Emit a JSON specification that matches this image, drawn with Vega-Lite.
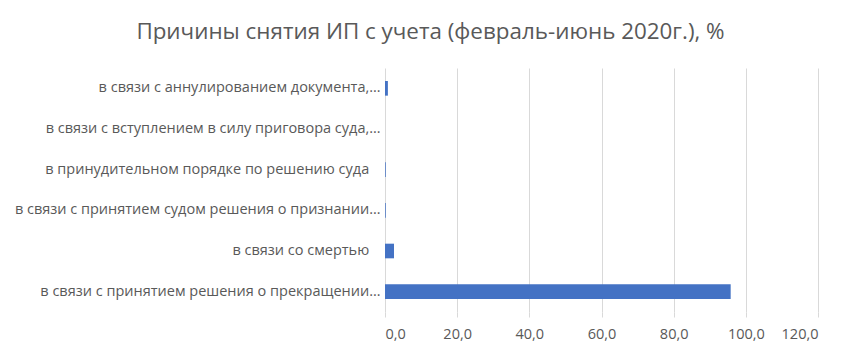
{
  "$schema": "https://vega.github.io/schema/vega-lite/v6.json",
  "width": 433,
  "height": 244,
  "autosize": {"type": "none"},
  "padding": {"left": 385, "top": 68, "right": 42, "bottom": 45},
  "background": "white",
  "title": {
    "text": "Причины снятия ИП с учета (февраль-июнь 2020г.), %",
    "font": "Open Sans",
    "fontSize": 22.4,
    "fontWeight": "normal",
    "color": "#595959",
    "anchor": "middle",
    "dx": -171,
    "offset": 25
  },
  "config": {
    "locale": {"number": {"decimal": ",", "thousands": " ", "grouping": [3], "currency": ["", ""]}},
    "view": {"stroke": null},
    "font": "Open Sans"
  },
  "data": {
    "values": [
      {"reason": "в связи с аннулированием документа,…", "value": 0.8},
      {"reason": "в связи с вступлением в силу приговора суда,…", "value": 0.0},
      {"reason": "в принудительном порядке по решению суда\u00a0\u00a0\u00a0\u200b", "value": 0.2},
      {"reason": "в связи с принятием судом решения о признании…", "value": 0.2},
      {"reason": "в связи со смертью\u00a0\u00a0\u00a0\u200b", "value": 2.5},
      {"reason": "в связи с принятием решения о прекращении…", "value": 95.8}
    ]
  },
  "mark": {"type": "bar", "color": "#4472C4"},
  "encoding": {
    "y": {
      "field": "reason",
      "type": "nominal",
      "sort": null,
      "title": null,
      "scale": {"paddingInner": 0.64, "paddingOuter": 0.32},
      "axis": {
        "domain": false,
        "ticks": false,
        "labelPadding": 5,
        "labelLimit": 0,
        "labelFontSize": 14.5,
        "labelColor": "#595959"
      }
    },
    "x": {
      "field": "value",
      "type": "quantitative",
      "title": null,
      "scale": {"domain": [0, 120], "nice": false},
      "axis": {
        "values": [0, 20, 40, 60, 80, 100, 120],
        "format": ".1f",
        "grid": true,
        "gridColor": "#d9d9d9",
        "gridWidth": 1,
        "domain": false,
        "ticks": true,
        "tickColor": "#d9d9d9",
        "tickSize": 5,
        "labelPadding": 10,
        "labelFontSize": 14.5,
        "labelColor": "#595959"
      }
    }
  }
}
